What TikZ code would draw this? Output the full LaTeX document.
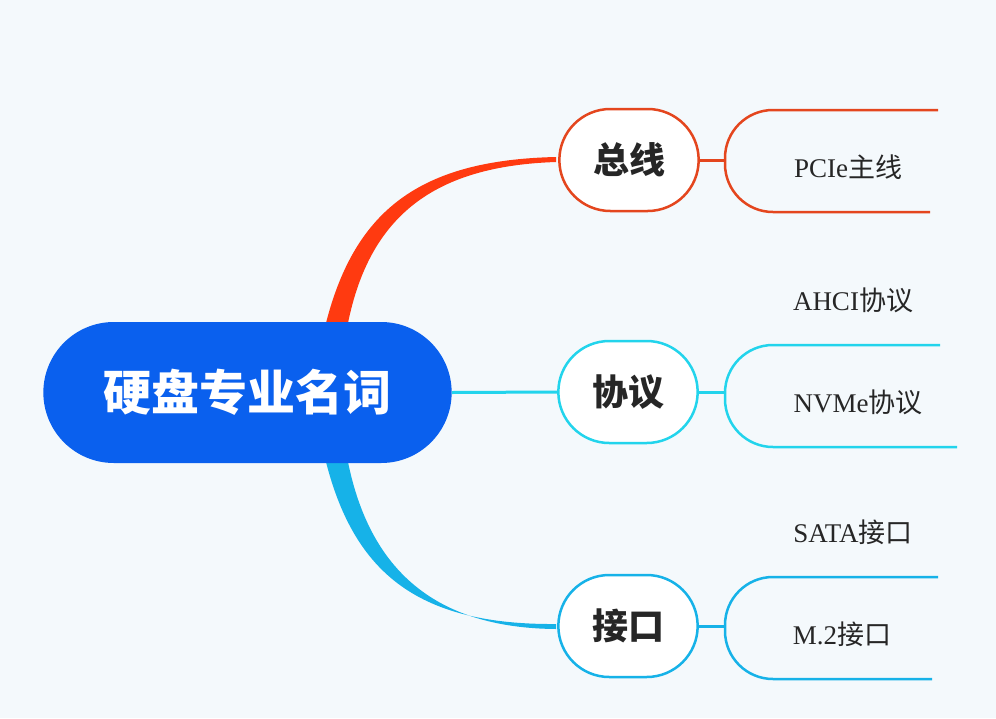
\documentclass[tikz,border=0pt]{standalone}
\usepackage{fontspec}
\setmainfont{Liberation Serif}
\newfontfamily\cjk{Noto Sans CJK SC}
\definecolor{bgc}{HTML}{F4F9FC}
\definecolor{mainc}{HTML}{0A60EE}
\definecolor{busc}{HTML}{E4461E}
\definecolor{busk}{HTML}{FF3A10}
\definecolor{protc}{HTML}{22D4EC}
\definecolor{portc}{HTML}{16B2E8}
\tikzset{
  topic/.style={rounded rectangle,fill=white,line width=2.5pt,minimum width=146pt,minimum height=102pt,font=\cjk\bfseries\fontsize{36}{40}\selectfont,text=black!85},
  leaf/.style={font=\fontsize{27}{32}\selectfont,text=black!85},
  bracket/.style={line width=2.5pt,rounded corners=48pt},
}
\usetikzlibrary{shapes.misc}
\begin{document}
\begin{tikzpicture}[x=1pt,y=-1pt]
\fill[bgc] (0,0) rectangle (996,718);
\useasboundingbox (0,0) rectangle (996,718);
% tapered branches
\fill[busk] (326,323) .. controls (355,210) and (420,160) .. (556,157) -- (556,162) .. controls (435,166) and (370,215) .. (348,323) -- cycle;
\fill[portc] (326,462) .. controls (355,575) and (420,625) .. (556,624) -- (556,629) .. controls (435,628) and (370,570) .. (348,462) -- cycle;
% main topic
\node[rounded rectangle,fill=mainc,minimum width=415pt,minimum height=141pt,font=\cjk\bfseries\fontsize{48}{52}\selectfont,text=white] (root) at (247.5,392.5) {硬盘专业名词};
% topics
\node[topic,draw=busc] (bus) at (629,160) {总线};
\node[topic,draw=protc] (prot) at (628,392) {协议};
\node[topic,draw=portc] (port) at (628,626) {接口};
\draw[protc,line width=3pt] (root.east) -- (prot.west);
% brackets
\coordinate (busa) at (725,160);
\coordinate (prota) at (725,392);
\coordinate (porta) at (725,626);
\draw[busc,line width=3pt] (bus.east) -- (busa);
\draw[busc,bracket] (938,110) -- (725,110) -- (725,212) -- (930,212);
\draw[protc,line width=3pt] (prot.east) -- (prota);
\draw[protc,bracket] (940,345) -- (725,345) -- (725,447) -- (957,447);
\draw[portc,line width=3pt] (port.east) -- (porta);
\draw[portc,bracket] (938,577) -- (725,577) -- (725,679) -- (932,679);
% leaves
\node[leaf] (pcie) at (848,167) {PCIe{\cjk 主线}};
\node[leaf] (ahci) at (853,300) {AHCI{\cjk 协议}};
\node[leaf] (nvme) at (858,402) {NVMe{\cjk 协议}};
\node[leaf] (sata) at (853,532) {SATA{\cjk 接口}};
\node[leaf] (m2) at (842,634) {M.2{\cjk 接口}};
\end{tikzpicture}
\end{document}
